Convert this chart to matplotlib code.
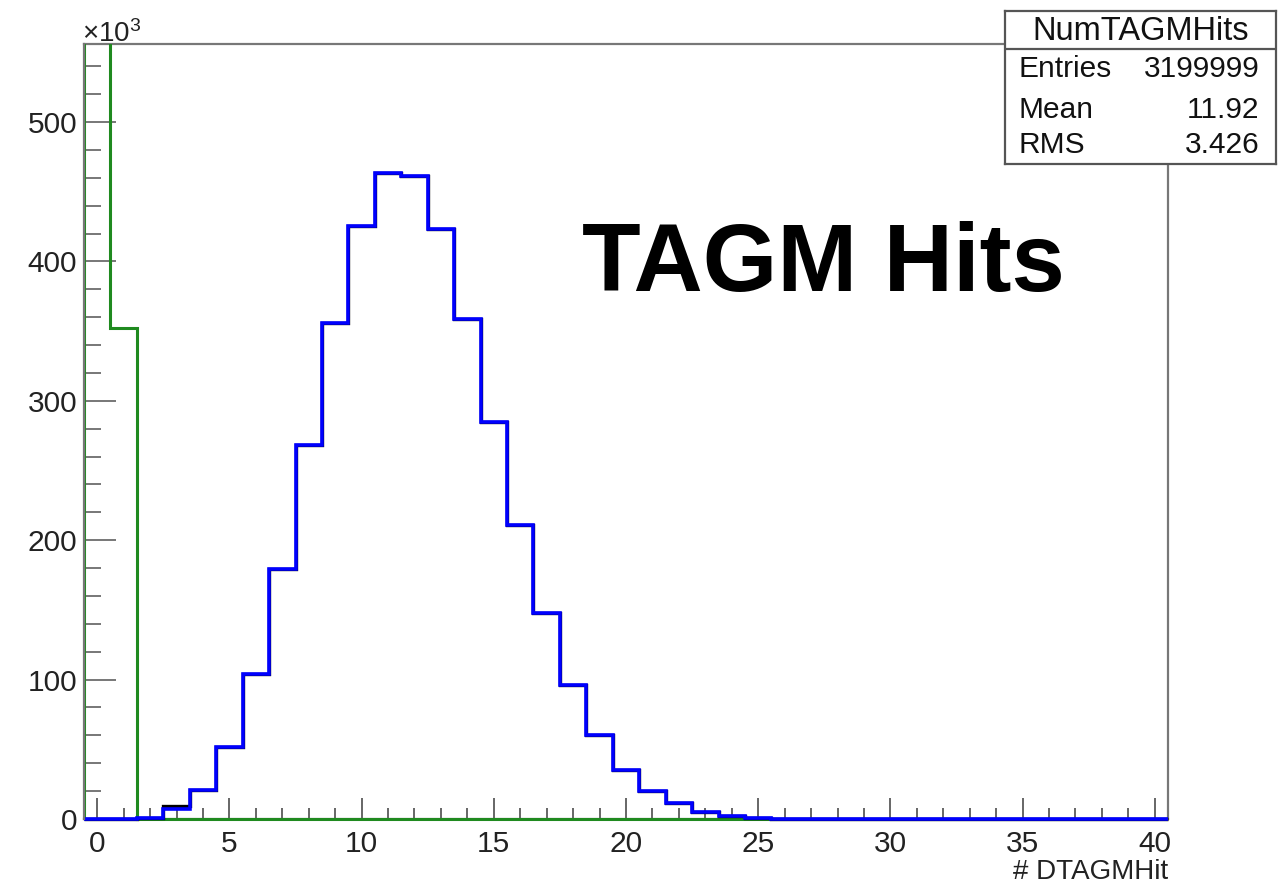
import numpy as np
import matplotlib
matplotlib.use('Agg')
import matplotlib.pyplot as plt
from matplotlib.ticker import MultipleLocator
from matplotlib.transforms import Bbox, TransformedBbox

plt.rcParams['font.family'] = ['Liberation Sans', 'DejaVu Sans']
plt.rcParams['mathtext.default'] = 'regular'

# histogram binning: integer bins centred on 0..40
edges = np.arange(-0.5, 41.0, 1.0)

# counts in units of 10^3, bins 0..40
blue_counts = [0, 0, 0.5, 7.2, 20.8, 51.7, 104, 179, 268.5, 356, 425.7,
               463.5, 461.6, 423.5, 359, 284.6, 210.6, 147.7, 96.2, 60.3,
               35.2, 20.3, 11.7, 4.8, 2.4, 0.8, 0, 0, 0, 0, 0, 0, 0, 0, 0,
               0, 0, 0, 0, 0, 0]
black_counts = [0, 0, 0.5, 9.0, 20.8, 51.7, 104, 179, 268.5, 356, 425.7,
                463.5, 461.6, 423.5, 359, 284.6, 210.6, 147.7, 96.2, 60.3,
                35.2, 20.3, 11.7, 4.8, 2.4, 0.8, 0, 0, 0, 0, 0, 0, 0, 0, 0,
                0, 0, 0, 0, 0, 0]
green_counts = [2848, 352] + [0] * 39

stats_title = 'NumTAGMHits'
stats_names = ['Entries', 'Mean', 'RMS']
stats_values = ['3199999', '11.92', '3.426']

W, H = 1283, 889
fig = plt.figure(figsize=(W / 100, H / 100), dpi=100)
ax = fig.add_axes([84 / W, 1 - 819 / H, (1168 - 84) / W, (819 - 44) / H])

for s in ax.spines.values():
    s.set_color('#777777')
    s.set_linewidth(1.6)
    s.set_zorder(1)
ax.spines['left'].set_zorder(6)

ax.set_xlim(-0.5, 40.5)
ax.set_ylim(0, 556)

green = ax.stairs(green_counts, edges, baseline=0, color='#1f8a1f', lw=2.2,
                  zorder=2)
# keep the top clipped but let the baseline show in full
green.set_clip_box(TransformedBbox(Bbox([[-0.5, -20], [40.5, 556]]),
                                   ax.transData))
ax.stairs(black_counts, edges, baseline=0, color='black', lw=2.4, zorder=3,
          clip_on=False)
ax.stairs(blue_counts, edges, baseline=0, color='#0000ff', lw=2.6, zorder=4,
          clip_on=False)

ax.xaxis.set_major_locator(MultipleLocator(5))
ax.xaxis.set_minor_locator(MultipleLocator(1))
ax.yaxis.set_major_locator(MultipleLocator(100))
ax.yaxis.set_minor_locator(MultipleLocator(20))

ax.tick_params(axis='x', which='major', direction='in', length=15, width=1.4,
               color='#666666', labelsize=21.5, labelcolor='#222222', pad=8)
ax.tick_params(axis='x', which='minor', direction='in', length=8, width=1.4,
               color='#666666')
ax.tick_params(axis='y', which='major', direction='in', length=23, width=1.4,
               color='#777777', labelsize=21.5, labelcolor='#222222', pad=5)
ax.tick_params(axis='y', which='minor', direction='in', length=12, width=1.4,
               color='#777777')

fig.text(82 / W, 1 - 42 / H, r'$\times10^{3}$', fontsize=20, color='#222222',
         ha='left', va='baseline')
fig.text(1168 / W, 1 - 872 / H, '# DTAGMHit', fontsize=20, color='#222222',
         ha='right', va='center')
fig.text(582 / W, 1 - 291 / H, 'TAGM Hits', fontsize=69, fontweight='bold',
         ha='left', va='baseline')

# stats box
bx = fig.add_axes([1005 / W, 1 - 164 / H, (1276 - 1005) / W, (164 - 11) / H])
bx.set_xlim(0, 1)
bx.set_ylim(0, 1)
bx.set_xticks([])
bx.set_yticks([])
bx.set_facecolor('white')
for s in bx.spines.values():
    s.set_color('#555555')
    s.set_linewidth(1.6)
bx.axhline(0.752, color='#555555', lw=1.6)
bx.text(0.5, 0.863, stats_title, fontsize=23.5, ha='center', va='center',
        color='#111111')
rows_y = [0.621, 0.353, 0.124]
for name, val, yy in zip(stats_names, stats_values, rows_y):
    bx.text(0.048, yy, name, fontsize=21.5, ha='left', va='center', color='#111111')
    bx.text(0.94, yy, val, fontsize=21.5, ha='right', va='center', color='#111111')

fig.savefig('out.png', dpi=100)
